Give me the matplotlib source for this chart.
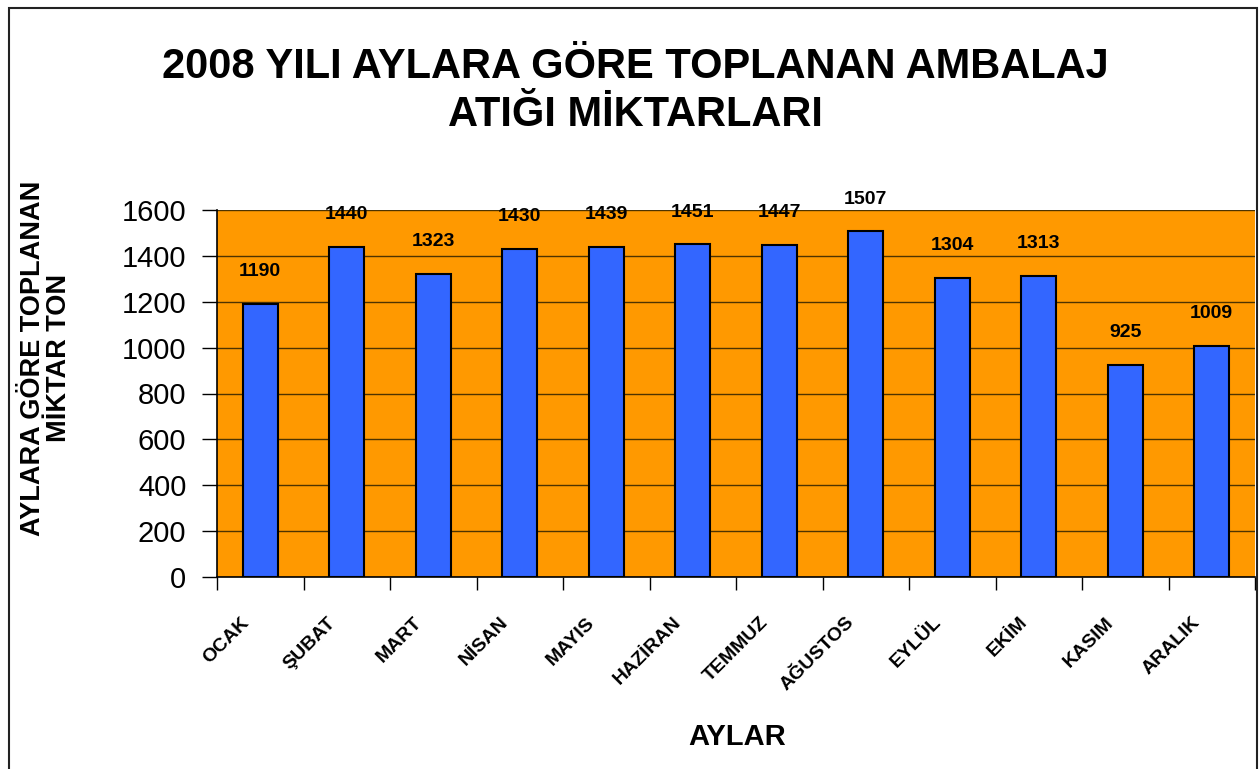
import matplotlib
matplotlib.use('Agg')
import matplotlib.pyplot as plt
from matplotlib.patches import Rectangle
import matplotlib.transforms as mtransforms

months = ['OCAK', 'ŞUBAT', 'MART', 'NİSAN', 'MAYIS', 'HAZİRAN',
          'TEMMUZ', 'AĞUSTOS', 'EYLÜL', 'EKİM', 'KASIM', 'ARALIK']
tons = [1190, 1440, 1323, 1430, 1439, 1451, 1447, 1507, 1304, 1313, 925, 1009]
yticks = [0, 200, 400, 600, 800, 1000, 1200, 1400, 1600]

ORANGE = '#FF9900'
BLUE = '#3366FF'
GRID = '#4d3300'

plt.rcParams['font.family'] = ['Liberation Sans', 'DejaVu Sans']

fig = plt.figure(figsize=(12.6, 7.69), dpi=100)
ax = fig.add_axes([217 / 1260, 1 - 577 / 769, 1038 / 1260, 367 / 769])
ax.set_facecolor(ORANGE)

x = list(range(len(months)))
ax.bar(x, tons, width=0.4, color=BLUE, edgecolor='black', linewidth=1.5, zorder=3)

for xi, v in zip(x, tons):
    ax.annotate(str(v), (xi, v), xytext=(0, 17), textcoords='offset points',
                ha='center', va='bottom', fontsize=14, fontweight='bold',
                annotation_clip=False, zorder=4)

ax.set_xlim(-0.5, len(months) - 0.5)
ax.set_ylim(0, 1600)
ax.set_yticks(yticks)
ax.tick_params(axis='y', labelsize=21, length=11, width=1, pad=11, direction='out')
ax.yaxis.grid(True, color=GRID, linewidth=1)
ax.set_axisbelow(True)

# category boundary ticks, labels at centers
ax.set_xticks([i - 0.5 for i in range(len(months) + 1)])
ax.set_xticklabels([])
ax.tick_params(axis='x', length=9, width=1, direction='out')
offset = mtransforms.ScaledTranslation(-8 / 100, -37 / 100, fig.dpi_scale_trans)
for xi, m in zip(x, months):
    ax.text(xi, 0, m, transform=ax.transData + offset, rotation=45,
            ha='right', va='top', fontsize=14, fontweight='bold')

for s in ('top', 'right'):
    ax.spines[s].set_visible(False)
ax.spines['left'].set_linewidth(1.2)
ax.spines['bottom'].set_linewidth(1.2)

fig.text(635 / 1260, 1 - 91 / 769, '2008 YILI AYLARA GÖRE TOPLANAN AMBALAJ\nATIĞI MİKTARLARI',
         ha='center', va='center', fontsize=30, fontweight='bold', linespacing=1.25)
fig.text(46 / 1260, 1 - 358 / 769, 'AYLARA GÖRE TOPLANAN\nMİKTAR TON', rotation=90,
         ha='center', va='center', fontsize=19.5, fontweight='bold', multialignment='center',
         linespacing=1.0)
fig.text(737 / 1260, 1 - 737 / 769, 'AYLAR', ha='center', va='center',
         fontsize=21, fontweight='bold')

fig.patches.append(Rectangle((8.5 / 1260, -0.02), (1257 - 8.5) / 1260, (769 - 7.5) / 769 + 0.02,
                             transform=fig.transFigure, fill=False, edgecolor='#222222',
                             linewidth=1.5))

fig.savefig('out.png', dpi=100)
